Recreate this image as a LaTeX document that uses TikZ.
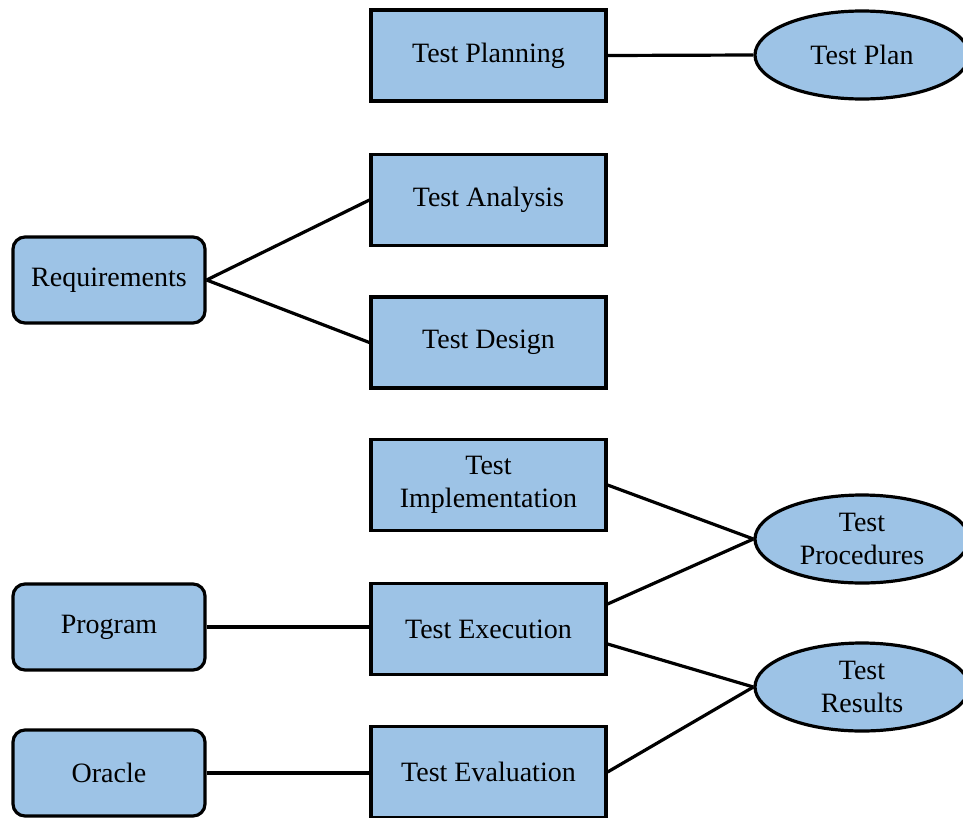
\documentclass[tikz,border=0pt]{standalone}
\usepackage{fontspec}
\setmainfont{Liberation Serif}
\usetikzlibrary{shapes.geometric}
\definecolor{boxblue}{HTML}{9DC3E6}
\begin{document}
\begin{tikzpicture}[x=1pt,y=-1pt,
  every node/.style={font=\fontsize{28}{33}\selectfont, align=center, inner sep=0pt},
  stagebox/.style={draw=black, line width=3.2pt, fill=boxblue, minimum width=235pt, minimum height=91pt},
  inputbox/.style={draw=black, line width=3.2pt, fill=boxblue, rounded corners=12pt, minimum width=192pt, minimum height=86pt},
  artefact/.style={ellipse, draw=black, line width=3.2pt, fill=boxblue, minimum width=214pt, minimum height=88pt},
  link/.style={draw=black, line width=3.2pt}]
\useasboundingbox (0,0) rectangle (963,817);
\clip (0,0) rectangle (963,817);
\fill[white] (0,0) rectangle (963,817);

\node[stagebox] (plan) at (488.5,55.5) {Test Planning};
\node[stagebox] (ana) at (488.5,200) {Test Analysis};
\node[stagebox] (des) at (488.5,342.5) {Test Design};
\node[stagebox] (impl) at (488.5,485) {Test\\Implementation};
\node[stagebox] (exe) at (488.5,629) {Test Execution};
\node[stagebox] (eval) at (488.5,772) {Test Evaluation};

\node[inputbox] (req) at (109,280) {Requirements};
\node[inputbox] (prog) at (109,627) {Program};
\node[inputbox] (orc) at (109,773) {Oracle};

\node[artefact] (tplan) at (862,55) {Test Plan};
\node[artefact] (tproc) at (862,539) {Test\\Procedures};
\node[artefact] (tres) at (862,687) {Test\\Results};

\draw[link] (plan.east) -- (tplan.west);
\draw[link] (req.east) -- (ana.west);
\draw[link] (req.east) -- (des.west);
\draw[link] (impl.east) -- (tproc.west);
\draw[link] ([yshift=25pt]exe.east) -- (tproc.west);
\draw[link] ([yshift=-15pt]exe.east) -- (tres.west);
\draw[link] (eval.east) -- (tres.west);
\draw[link] (prog.east) -- (exe.west |- prog.east);
\draw[link] (orc.east) -- (eval.west |- orc.east);
\end{tikzpicture}
\end{document}
